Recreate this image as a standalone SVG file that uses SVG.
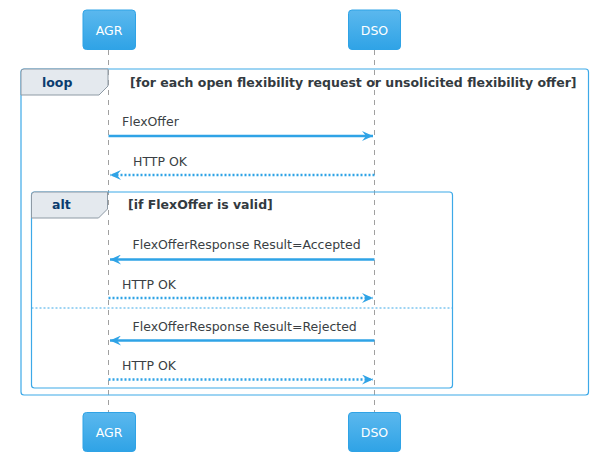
<svg xmlns="http://www.w3.org/2000/svg" width="598" height="462" viewBox="0 0 598 462">
<defs>
<linearGradient id="pg" x1="0" y1="0" x2="0" y2="1">
<stop offset="0" stop-color="#5BB8EE"/>
<stop offset="1" stop-color="#2FA3E6"/>
</linearGradient>
<marker id="ah2" viewBox="0 0 12 10" refX="11" refY="5" markerWidth="12" markerHeight="10" markerUnits="userSpaceOnUse" orient="auto">
<polygon points="0,0 11,5 0,10 4,5" fill="#2FA3E6"/>
</marker>
</defs>
<style>
.life{stroke:#A0A0A0;stroke-width:1;stroke-dasharray:5,5;fill:none}
.pbox{fill:url(#pg);stroke:#2FA3E6;stroke-width:1}
.ptxt{font-family:"DejaVu Sans",sans-serif;font-size:12.5px;fill:#FFFFFF;text-anchor:middle}
.frame{fill:none;stroke:#3DA9E8;stroke-width:1.2}
.tab{fill:#E4E9EE;stroke:#8E9AA5;stroke-width:1}
.ftxt{font-family:"DejaVu Sans",sans-serif;font-size:12.5px;font-weight:bold;fill:#0B3C6E}
.ctxt{font-family:"DejaVu Sans",sans-serif;font-size:12.5px;font-weight:bold;fill:#333A40}
.mtxt{font-family:"DejaVu Sans",sans-serif;font-size:12.5px;fill:#3A3F44}
.msg{stroke:#2FA3E6;stroke-width:2.5;fill:none}
.ret{stroke:#2FA3E6;stroke-width:2.5;fill:none;stroke-dasharray:2,2}
.div{stroke:#3DA9E8;stroke-width:1;stroke-dasharray:2,2;fill:none}
</style>

<g id="lifelines">
<line class="life" x1="108.5" y1="50" x2="108.5" y2="412"/>
<line class="life" x1="374.5" y1="50" x2="374.5" y2="412"/>
</g>

<g id="loop">
<rect class="frame" x="21" y="69" width="567.5" height="326" rx="3"/>
<path class="tab" d="M21,95 L21,72 Q21,69 24,69 L108,69 L108,86 L99,95 Z"/>
<text class="ftxt" x="42" y="87">loop</text>
<text class="ctxt" x="130" y="87">[for each open flexibility request or unsolicited flexibility offer]</text>
</g>

<g id="alt">
<rect class="frame" x="31.5" y="192" width="421" height="196" rx="3"/>
<path class="tab" d="M31.5,218 L31.5,195 Q31.5,192 34.5,192 L107.5,192 L107.5,209 L98.5,218 Z"/>
<text class="ftxt" x="52" y="209">alt</text>
<text class="ctxt" x="128" y="209">[if FlexOffer is valid]</text>
<line class="div" x1="31.5" y1="308" x2="452.5" y2="308"/>
</g>

<g id="connectors">
<line class="msg" x1="108.5" y1="136" x2="373" y2="136" marker-end="url(#ah2)"/>
<text class="mtxt" x="122" y="126">FlexOffer</text>
<line class="ret" x1="374.5" y1="175" x2="110" y2="175" marker-end="url(#ah2)"/>
<text class="mtxt" x="133" y="166">HTTP OK</text>
<line class="msg" x1="374.5" y1="259.5" x2="110" y2="259.5" marker-end="url(#ah2)"/>
<text class="mtxt" x="132.5" y="249">FlexOfferResponse Result=Accepted</text>
<line class="ret" x1="108.5" y1="298" x2="373" y2="298" marker-end="url(#ah2)"/>
<text class="mtxt" x="122" y="289">HTTP OK</text>
<line class="msg" x1="374.5" y1="340.5" x2="110" y2="340.5" marker-end="url(#ah2)"/>
<text class="mtxt" x="132.5" y="331">FlexOfferResponse Result=Rejected</text>
<line class="ret" x1="108.5" y1="379.5" x2="373" y2="379.5" marker-end="url(#ah2)"/>
<text class="mtxt" x="122" y="370">HTTP OK</text>
</g>

<g id="AGR">
<rect class="pbox" x="83" y="10" width="52.5" height="39.5" rx="3.5"/>
<text class="ptxt" x="109" y="34.5">AGR</text>
</g>
<g id="DSO">
<rect class="pbox" x="348.5" y="10" width="52" height="39.5" rx="3.5"/>
<text class="ptxt" x="374.5" y="34.5">DSO</text>
</g>
<g id="AGR-bottom">
<rect class="pbox" x="83" y="412.5" width="52.5" height="39" rx="3.5"/>
<text class="ptxt" x="109" y="437">AGR</text>
</g>
<g id="DSO-bottom">
<rect class="pbox" x="348.5" y="412.5" width="52" height="39" rx="3.5"/>
<text class="ptxt" x="374.5" y="437">DSO</text>
</g>
</svg>
